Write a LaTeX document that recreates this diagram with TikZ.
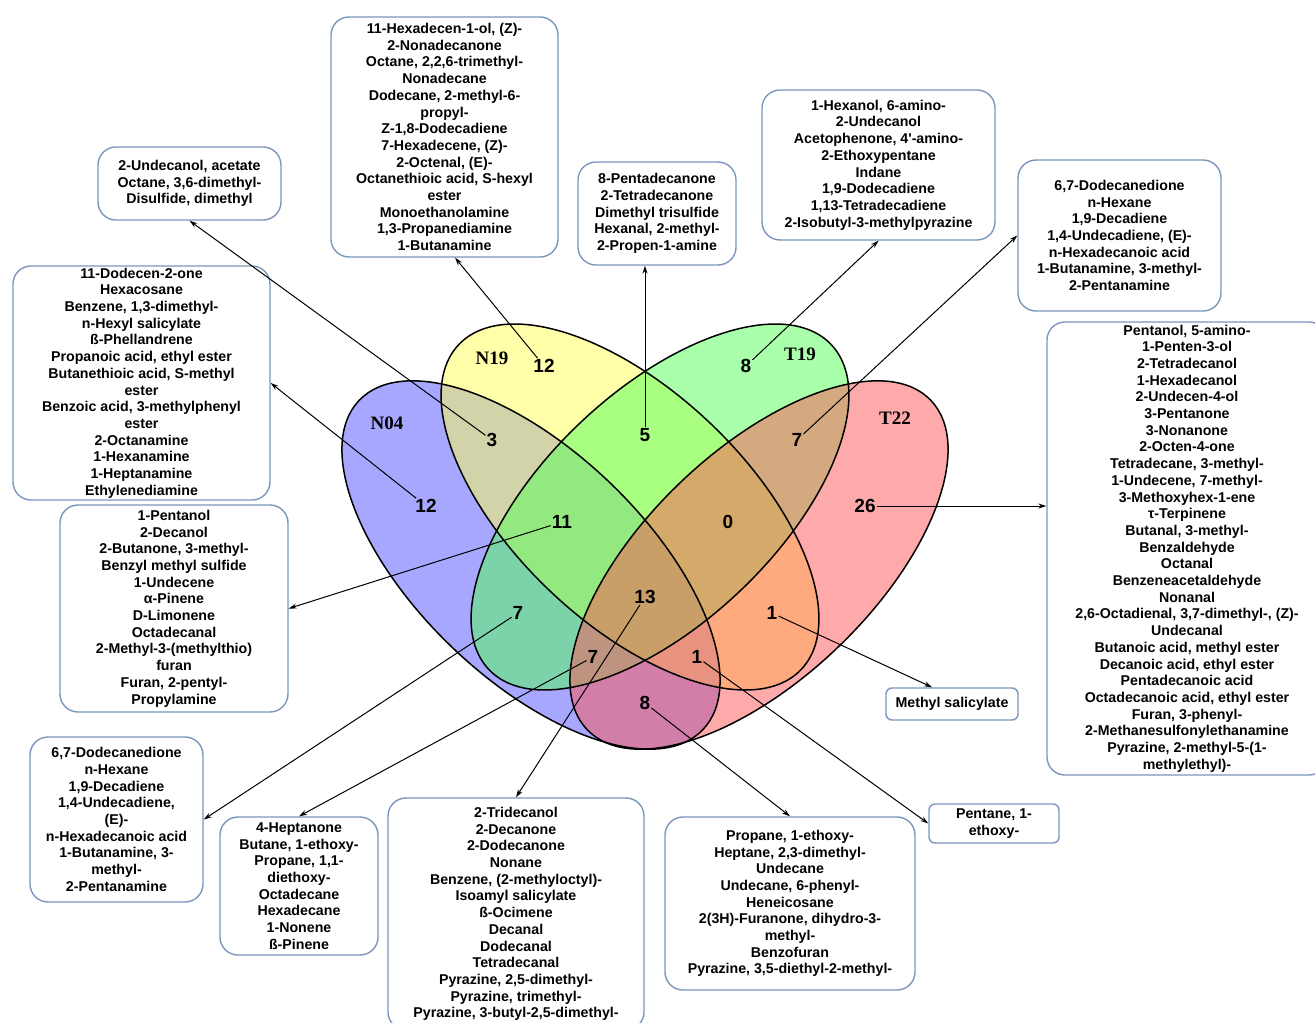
\documentclass[tikz,border=0pt]{standalone}
\usepackage{fontspec}
\setmainfont{Liberation Sans}
\newfontfamily\setserif{Liberation Serif}
\usetikzlibrary{positioning, arrows.meta}

\definecolor{boxblue}{RGB}{122,150,188}
\definecolor{nfour}{RGB}{79,79,255}
\definecolor{nnineteen}{RGB}{255,255,85}
\definecolor{tnineteen}{RGB}{85,255,85}
\definecolor{ttwentytwo}{RGB}{255,85,85}

\newcommand{\boxfont}{\fontsize{14.2}{16.7}\selectfont\bfseries}

\begin{document}
\begin{tikzpicture}[
    x=1pt, y=-1pt,
    link/.style={-{Stealth[length=8pt,width=5pt]}, line width=1pt},
    cbox/.style={draw=boxblue, line width=1.4pt, rounded corners=18pt,
        align=center, font=\boxfont, inner sep=0pt},
    sbox/.style={cbox, rounded corners=6pt},
    setfill/.style={fill opacity=0.5},
    num/.style={font=\fontsize{19}{19}\selectfont\bfseries, inner sep=1pt},
    setname/.style={font=\fontsize{19}{19}\selectfont\setserif\bfseries}
]
\useasboundingbox (0,0) rectangle (1315,1023);
\clip (0,0) rectangle (1315,1023);

% --- Venn ellipses ---
\fill[setfill, nfour, rotate around={-43.8:(531,565)}]
    (531,565) ellipse [x radius=238, y radius=114];
\fill[setfill, nnineteen, rotate around={-43.5:(630,507)}]
    (630,507) ellipse [x radius=236, y radius=116];
\fill[setfill, tnineteen, rotate around={43.5:(660,507)}]
    (660,507) ellipse [x radius=236, y radius=116];
\fill[setfill, ttwentytwo, rotate around={43.8:(759,565)}]
    (759,565) ellipse [x radius=238, y radius=114];

\draw[line width=1.5pt, rotate around={-43.8:(531,565)}]
    (531,565) ellipse [x radius=238, y radius=114];
\draw[line width=1.5pt, rotate around={-43.5:(630,507)}]
    (630,507) ellipse [x radius=236, y radius=116];
\draw[line width=1.5pt, rotate around={43.5:(660,507)}]
    (660,507) ellipse [x radius=236, y radius=116];
\draw[line width=1.5pt, rotate around={43.8:(759,565)}]
    (759,565) ellipse [x radius=238, y radius=114];

% set names
\node[setname] (lN04) at (387,423) {N04};
\node[setname] (lN19) at (492,358) {N19};
\node[setname] (lT19) at (800,354) {T19};
\node[setname] (lT22) at (895,418) {T22};

% --- Counts ---
\node[num] (c12a) at (544,366) {12};
\node[num] (c8a)  at (746,366) {8};
\node[num] (c3)   at (492,440) {3};
\node[num] (c5)   at (645,435) {5};
\node[num] (c7a)  at (797,440) {7};
\node[num] (c12b) at (426,506) {12};
\node[num] (c26)  at (865,506) {26};
\node[num] (c11)  at (562,522) {11};
\node[num] (c0)   at (728,522) {0};
\node[num] (c13)  at (645,597) {13};
\node[num] (c7b)  at (518,613) {7};
\node[num] (c1a)  at (772,613) {1};
\node[num] (c7c)  at (593,657) {7};
\node[num] (c1b)  at (697,657) {1};
\node[num] (c8b)  at (645,703) {8};

% --- Compound lists ---
\node[cbox, minimum width=183pt, minimum height=73pt] (bA) at (189.5,183.5)
    {2-Undecanol, acetate\\Octane, 3,6-dimethyl-\\Disulfide, dimethyl};
\node[cbox, minimum width=227pt, minimum height=240pt] (bN19) at (444.5,137)
    {11-Hexadecen-1-ol, (Z)-\\2-Nonadecanone\\Octane, 2,2,6-trimethyl-\\Nonadecane\\
     Dodecane, 2-methyl-6-\\propyl-\\Z-1,8-Dodecadiene\\7-Hexadecene, (Z)-\\2-Octenal, (E)-\\
     Octanethioic acid, S-hexyl\\ester\\Monoethanolamine\\1,3-Propanediamine\\1-Butanamine};
\node[cbox, minimum width=158pt, minimum height=103pt] (b5) at (657,213.5)
    {8-Pentadecanone\\2-Tetradecanone\\Dimethyl trisulfide\\Hexanal, 2-methyl-\\2-Propen-1-amine};
\node[cbox, minimum width=233pt, minimum height=150pt] (bT19) at (878.5,165)
    {1-Hexanol, 6-amino-\\2-Undecanol\\Acetophenone, 4\textquotesingle-amino-\\2-Ethoxypentane\\Indane\\
     1,9-Dodecadiene\\1,13-Tetradecadiene\\2-Isobutyl-3-methylpyrazine};
\node[cbox, minimum width=203pt, minimum height=151pt] (bTT) at (1119.5,235.5)
    {6,7-Dodecanedione\\n-Hexane\\1,9-Decadiene\\1,4-Undecadiene, (E)-\\
     n-Hexadecanoic acid\\1-Butanamine, 3-methyl-\\2-Pentanamine};
\node[cbox, minimum width=257pt, minimum height=234pt] (bN04) at (141.5,383)
    {11-Dodecen-2-one\\Hexacosane\\Benzene, 1,3-dimethyl-\\n-Hexyl salicylate\\ß-Phellandrene\\
     Propanoic acid, ethyl ester\\Butanethioic acid, S-methyl\\ester\\
     Benzoic acid, 3-methylphenyl\\ester\\2-Octanamine\\1-Hexanamine\\1-Heptanamine\\Ethylenediamine};
\node[cbox, minimum width=228pt, minimum height=207pt] (b11) at (174,608.5)
    {1-Pentanol\\2-Decanol\\2-Butanone, 3-methyl-\\Benzyl methyl sulfide\\1-Undecene\\
     α-Pinene\\D-Limonene\\Octadecanal\\2-Methyl-3-(methylthio)\\furan\\Furan, 2-pentyl-\\Propylamine};
\node[cbox, minimum width=280pt, minimum height=453pt] (b26) at (1187,548.5)
    {Pentanol, 5-amino-\\1-Penten-3-ol\\2-Tetradecanol\\1-Hexadecanol\\2-Undecen-4-ol\\
     3-Pentanone\\3-Nonanone\\2-Octen-4-one\\Tetradecane, 3-methyl-\\1-Undecene, 7-methyl-\\
     3-Methoxyhex-1-ene\\τ-Terpinene\\Butanal, 3-methyl-\\Benzaldehyde\\Octanal\\
     Benzeneacetaldehyde\\Nonanal\\2,6-Octadienal, 3,7-dimethyl-, (Z)-\\Undecanal\\
     Butanoic acid, methyl ester\\Decanoic acid, ethyl ester\\Pentadecanoic acid\\
     Octadecanoic acid, ethyl ester\\Furan, 3-phenyl-\\2-Methanesulfonylethanamine\\
     Pyrazine, 2-methyl-5-(1-\\methylethyl)-};
\node[cbox, minimum width=173pt, minimum height=165pt] (b7b) at (116.5,819.5)
    {6,7-Dodecanedione\\n-Hexane\\1,9-Decadiene\\1,4-Undecadiene,\\(E)-\\
     n-Hexadecanoic acid\\1-Butanamine, 3-\\methyl-\\2-Pentanamine};
\node[cbox, minimum width=158pt, minimum height=138pt] (b7c) at (299,886)
    {4-Heptanone\\Butane, 1-ethoxy-\\Propane, 1,1-\\diethoxy-\\Octadecane\\Hexadecane\\
     1-Nonene\\ß-Pinene};
\node[cbox, minimum width=256pt, minimum height=232pt] (b13) at (516,914)
    {2-Tridecanol\\2-Decanone\\2-Dodecanone\\Nonane\\Benzene, (2-methyloctyl)-\\
     Isoamyl salicylate\\ß-Ocimene\\Decanal\\Dodecanal\\Tetradecanal\\
     Pyrazine, 2,5-dimethyl-\\Pyrazine, trimethyl-\\Pyrazine, 3-butyl-2,5-dimethyl-};
\node[cbox, minimum width=250pt, minimum height=173pt] (b8) at (790,903.5)
    {Propane, 1-ethoxy-\\Heptane, 2,3-dimethyl-\\Undecane\\Undecane, 6-phenyl-\\
     Heneicosane\\2(3H)-Furanone, dihydro-3-\\methyl-\\Benzofuran\\
     Pyrazine, 3,5-diethyl-2-methyl-};
\node[sbox, minimum width=132pt, minimum height=32pt] (bMS) at (952,704)
    {Methyl salicylate};
\node[sbox, minimum width=130pt, minimum height=39pt] (bPE) at (994,823.5)
    {Pentane, 1-\\ethoxy-};

% --- Arrows ---
\draw[link] (c3) -- (bA.south);
\draw[link] (c12a) -- (bN19.-85);
\draw[link] (c5) -- (c5 |- b5.south);
\draw[link] (c8a) -- (bT19.south);
\draw[link] (c7a) -- (bTT.west);
\draw[link] (c12b) -- (bN04.east);
\draw[link] (c26) -- (c26 -| b26.west);
\draw[link] (c11) -- (b11.east);
\draw[link] (c7b) -- (b7b.east);
\draw[link] (c7c) -- (b7c.north);
\draw[link] (c13) -- (b13.north);
\draw[link] (c8b) -- (b8.north);
\draw[link] (c1a) -- (bMS.140);
\draw[link] (c1b) -- (bPE.west);

\end{tikzpicture}
\end{document}
